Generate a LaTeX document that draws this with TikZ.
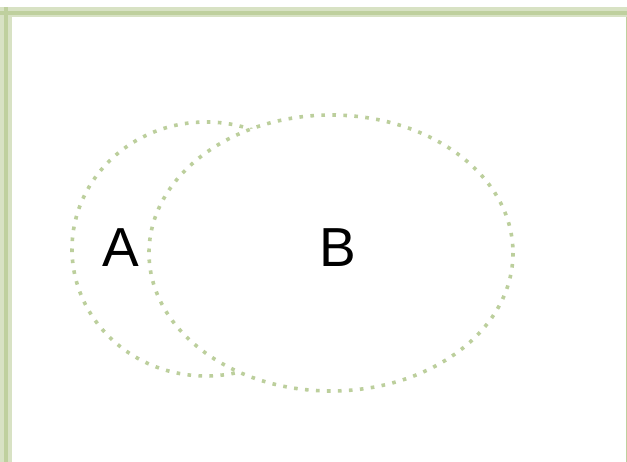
\documentclass[tikz,border=0pt]{standalone}
\usepackage{fontspec}
\setmainfont{Liberation Sans}
\definecolor{frameLight}{HTML}{D8E2C4}
\definecolor{frameDark}{HTML}{BFD09E}
\definecolor{dotGreen}{HTML}{BCCF9C}
\tikzset{
    setline/.style={dotGreen, line width=3.6pt, dash pattern=on 3.6pt off 7.4pt},
    setlabel/.style={font=\fontsize{55}{60}\selectfont, inner sep=0pt}
}
\begin{document}
\begin{tikzpicture}[x=1pt, y=-1pt]
    % Fix the page to the size of the picture
    \useasboundingbox (0,0) rectangle (627,462);
    \fill[white] (0,0) rectangle (627,462);

    % Frame along the top and the left side
    \fill[frameLight] (0,7) rectangle (627,17);
    \fill[frameLight] (0,7) rectangle (12,462);
    \fill[frameDark] (0,11) rectangle (627,15);
    \fill[frameDark] (4,7) rectangle (8,462);
    \draw[frameDark, line width=1pt] (626.5,17) -- (626.5,462);

    % Set A (partly hidden behind set B)
    \draw[setline] (206,249) ellipse [x radius=134, y radius=127];

    % Set B drawn on top with a white fill
    \draw[setline, fill=white] (331,253) ellipse [x radius=182, y radius=138];

    % Labels of the two sets
    \node[setlabel] (labelA) at (121,248) {A};
    \node[setlabel] (labelB) at (338,248) {B};
\end{tikzpicture}
\end{document}
